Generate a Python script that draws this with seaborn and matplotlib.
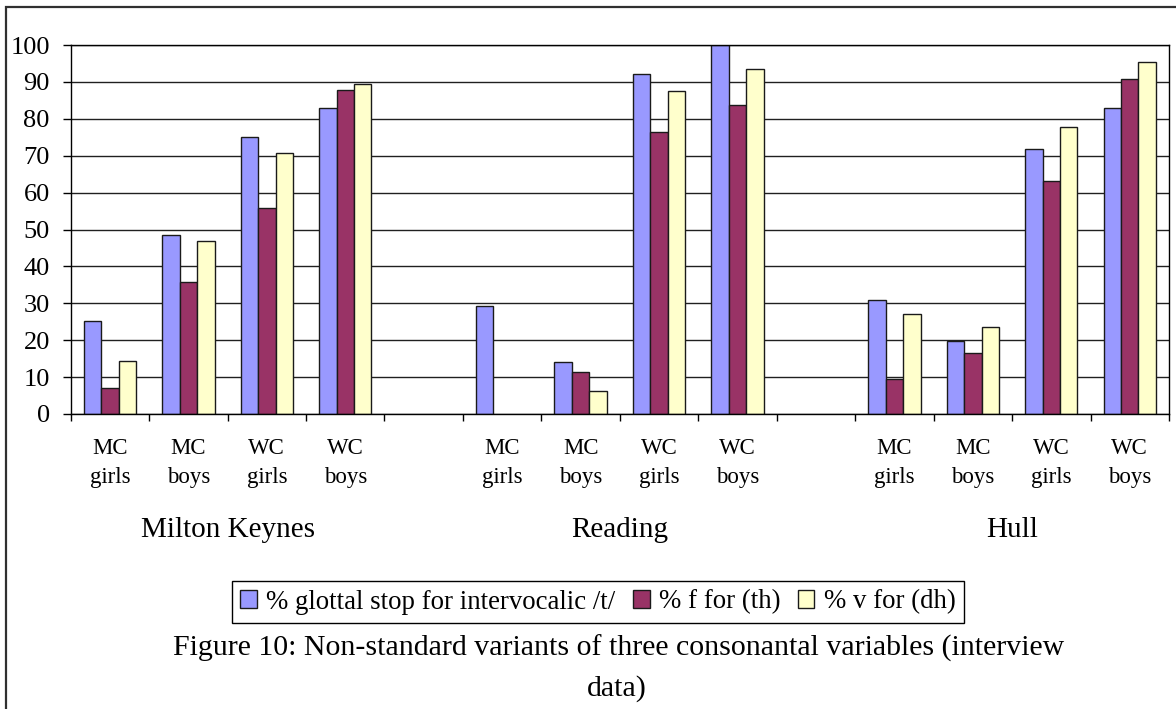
import matplotlib
matplotlib.use("Agg")
import matplotlib.pyplot as plt
import matplotlib.transforms as mtransforms
from matplotlib.patches import Rectangle
import seaborn as sns
import pandas as pd
import numpy as np

# ---------------- data ----------------
towns = ["Milton Keynes", "Reading", "Hull"]
groups = ["MC\ngirls", "MC\nboys", "WC\ngirls", "WC\nboys"]
series = ["% glottal stop for intervocalic /t/", "% f for (th)", "% v for (dh)"]
colors = ["#9999FF", "#993366", "#FFFFCC"]

# values per town, in order of groups
glottal = {"Milton Keynes": [25.3, 48.5, 75.2, 83.0],
           "Reading":       [29.4, 14.1, 92.1, 100.0],
           "Hull":          [30.9, 19.9, 71.8, 82.8]}
f_th = {"Milton Keynes": [7.0, 35.9, 55.8, 87.8],
        "Reading":       [None, 11.3, 76.4, 83.7],
        "Hull":          [9.6, 16.4, 63.1, 90.7]}
v_dh = {"Milton Keynes": [14.3, 46.8, 70.8, 89.4],
        "Reading":       [None, 6.2, 87.4, 93.6],
        "Hull":          [27.0, 23.6, 77.7, 95.4]}
y_ticks = list(range(0, 101, 10))

# ---------------- build table ----------------
order = []
for i, t in enumerate(towns):
    for g in groups:
        order.append(f"{t}|{g}")
    if i < len(towns) - 1:
        order.append(f"gap{i}")

rows = []
for s, src in zip(series, [glottal, f_th, v_dh]):
    for t in towns:
        for g, v in zip(groups, src[t]):
            if v is not None:
                rows.append({"slot": f"{t}|{g}", "series": s, "value": v})
df = pd.DataFrame(rows)

# ---------------- style ----------------
sns.set_style("white")
plt.rcParams["font.family"] = ["Liberation Serif", "DejaVu Serif"]
plt.rcParams["text.color"] = "black"
plt.rcParams["xtick.color"] = "black"
plt.rcParams["ytick.color"] = "black"
plt.rcParams["axes.labelcolor"] = "black"

fig = plt.figure(figsize=(11.76, 7.09), dpi=100)
ax = fig.add_axes([70.7 / 1176, 1 - 414 / 709, (1169 - 70.7) / 1176, (414 - 45) / 709])

sns.barplot(data=df, x="slot", y="value", hue="series", order=order,
            hue_order=series, palette=colors, saturation=1, width=0.667,
            edgecolor="#1a1a1a", linewidth=1.0, errorbar=None, ax=ax)

handles, labels = ax.get_legend_handles_labels()
if ax.get_legend() is not None:
    ax.get_legend().remove()

ax.set_xlim(-0.5, len(order) - 0.5)
ax.set_ylim(0, 100)
ax.set_yticks(y_ticks)
ax.set_yticklabels([str(v) for v in y_ticks], fontsize=19, color="black")
ax.tick_params(axis="y", direction="out", length=6, width=1, color="black", pad=9, left=True)
ax.yaxis.grid(True, color="#202020", linewidth=1)
ax.xaxis.grid(False)
ax.set_axisbelow(True)
for sp in ax.spines.values():
    sp.set_visible(True)
    sp.set_color("black")
    sp.set_linewidth(1)

# category boundaries as major ticks, labels as minor ticks
ax.set_xticks(np.arange(-0.5, len(order), 1.0))
ax.set_xticklabels([])
ax.tick_params(axis="x", which="major", direction="out", length=5, width=1, color="black", bottom=True)
centers = [i for i, o in enumerate(order) if not o.startswith("gap")]
cat_labels = [order[i].split("|")[1] for i in centers]
ax.set_xticks(centers, minor=True)
ax.set_xticklabels(cat_labels, minor=True, fontsize=16.5, linespacing=1.5, color="black")
ax.tick_params(axis="x", which="minor", length=0, pad=17)
ax.set_xlabel("")
ax.set_ylabel("")

# town labels
trans = mtransforms.blended_transform_factory(ax.transData, ax.transAxes)
for t in towns:
    idx = [i for i, o in enumerate(order) if o.startswith(t + "|")]
    ax.text(np.mean(idx), (414 - 537) / 369, t, transform=trans, ha="center",
            va="baseline", fontsize=21, color="black")

# legend
leg = fig.legend(handles, labels, loc="center", bbox_to_anchor=(598 / 1176, 1 - 602 / 709),
                 ncol=3, fontsize=19.3, frameon=True, fancybox=False, framealpha=1,
                 edgecolor="black", handlelength=0.62, handleheight=0.62,
                 handletextpad=0.35, columnspacing=0.65, borderpad=0.3, borderaxespad=0,
                 labelcolor="black")
leg.get_frame().set_linewidth(1)

# caption
fig.text(619 / 1176, 1 - 656 / 709,
         "Figure 10: Non-standard variants of three consonantal variables (interview",
         ha="center", va="baseline", fontsize=21.5, color="black")
fig.text(617 / 1176, 1 - 696 / 709, "data)", ha="center", va="baseline", fontsize=21.5,
         color="black")

# outer frame (left and top edges visible)
fig.add_artist(Rectangle((6 / 1176, -0.2), 1.3, 1.2 - 7 / 709, transform=fig.transFigure,
                         fill=False, edgecolor="#303030", linewidth=1.6, clip_on=False))

fig.savefig("out.png", dpi=100)
